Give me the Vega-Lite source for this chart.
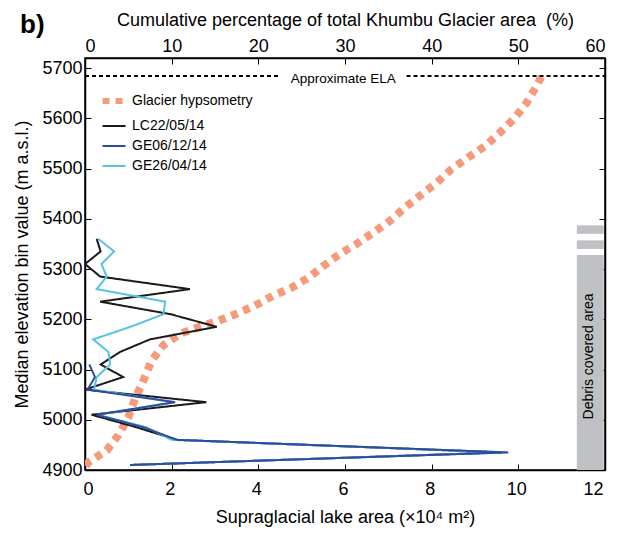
{
  "$schema": "https://vega.github.io/schema/vega-lite/v6.json",
  "width": 520,
  "height": 412,
  "autosize": "none",
  "padding": {"left": 85, "top": 58, "right": 16, "bottom": 65},
  "title": {"text": "b)", "anchor": "start", "frame": "group", "dx": -65, "dy": 31, "fontSize": 26, "fontWeight": "bold", "font": "Liberation Sans", "color": "black"},
  "config": {
    "font": "Liberation Sans",
    "view": {"stroke": "black", "strokeWidth": 1.5},
    "axis": {"grid": false, "domainColor": "black", "domainWidth": 1.5, "tickColor": "black", "tickWidth": 1, "tickSize": -6, "labelPadding": 9, "labelFontSize": 18, "labelColor": "black", "titleFontSize": 18, "titleFontWeight": "normal", "titleColor": "black", "labelFont": "Liberation Sans", "titleFont": "Liberation Sans"},
    "legend": {"labelFontSize": 14, "labelColor": "black", "labelFont": "Liberation Sans"}
  },
  "datasets": {
    "hyps": [
      {"series": "Glacier hypsometry", "pct": 0.1, "elev": 4908},
      {"series": "Glacier hypsometry", "pct": 0.38, "elev": 4915},
      {"series": "Glacier hypsometry", "pct": 2.5, "elev": 4939},
      {"series": "Glacier hypsometry", "pct": 3.84, "elev": 4969},
      {"series": "Glacier hypsometry", "pct": 5.0, "elev": 5005},
      {"series": "Glacier hypsometry", "pct": 5.77, "elev": 5042},
      {"series": "Glacier hypsometry", "pct": 6.73, "elev": 5078},
      {"series": "Glacier hypsometry", "pct": 7.7, "elev": 5118},
      {"series": "Glacier hypsometry", "pct": 9.03, "elev": 5148},
      {"series": "Glacier hypsometry", "pct": 10.96, "elev": 5171},
      {"series": "Glacier hypsometry", "pct": 13.07, "elev": 5184},
      {"series": "Glacier hypsometry", "pct": 15.38, "elev": 5197},
      {"series": "Glacier hypsometry", "pct": 17.5, "elev": 5211},
      {"series": "Glacier hypsometry", "pct": 19.6, "elev": 5227},
      {"series": "Glacier hypsometry", "pct": 21.7, "elev": 5247},
      {"series": "Glacier hypsometry", "pct": 23.85, "elev": 5263},
      {"series": "Glacier hypsometry", "pct": 25.8, "elev": 5283},
      {"series": "Glacier hypsometry", "pct": 27.5, "elev": 5306},
      {"series": "Glacier hypsometry", "pct": 29.4, "elev": 5330},
      {"series": "Glacier hypsometry", "pct": 31.35, "elev": 5350},
      {"series": "Glacier hypsometry", "pct": 33.3, "elev": 5373},
      {"series": "Glacier hypsometry", "pct": 35.2, "elev": 5396},
      {"series": "Glacier hypsometry", "pct": 36.9, "elev": 5422},
      {"series": "Glacier hypsometry", "pct": 38.65, "elev": 5446},
      {"series": "Glacier hypsometry", "pct": 40.6, "elev": 5472},
      {"series": "Glacier hypsometry", "pct": 42.3, "elev": 5499},
      {"series": "Glacier hypsometry", "pct": 44.2, "elev": 5522},
      {"series": "Glacier hypsometry", "pct": 46.2, "elev": 5545},
      {"series": "Glacier hypsometry", "pct": 47.9, "elev": 5572},
      {"series": "Glacier hypsometry", "pct": 49.6, "elev": 5601},
      {"series": "Glacier hypsometry", "pct": 50.96, "elev": 5631},
      {"series": "Glacier hypsometry", "pct": 52.1, "elev": 5664},
      {"series": "Glacier hypsometry", "pct": 52.9, "elev": 5691}
    ],
    "lakes": [
      {"series": "LC22/05/14", "elev": 4910, "area": 1.04},
      {"series": "LC22/05/14", "elev": 4935, "area": 9.6},
      {"series": "LC22/05/14", "elev": 4960, "area": 2.12},
      {"series": "LC22/05/14", "elev": 4985, "area": 1.19},
      {"series": "LC22/05/14", "elev": 5010, "area": 0.15},
      {"series": "LC22/05/14", "elev": 5035, "area": 2.8},
      {"series": "LC22/05/14", "elev": 5060, "area": 0.0},
      {"series": "LC22/05/14", "elev": 5085, "area": 0.88},
      {"series": "LC22/05/14", "elev": 5110, "area": 0.36},
      {"series": "LC22/05/14", "elev": 5135, "area": 0.81},
      {"series": "LC22/05/14", "elev": 5160, "area": 1.5},
      {"series": "LC22/05/14", "elev": 5185, "area": 3.04},
      {"series": "LC22/05/14", "elev": 5210, "area": 1.98},
      {"series": "LC22/05/14", "elev": 5235, "area": 0.35},
      {"series": "LC22/05/14", "elev": 5260, "area": 2.42},
      {"series": "LC22/05/14", "elev": 5285, "area": 0.35},
      {"series": "LC22/05/14", "elev": 5310, "area": 0.0},
      {"series": "LC22/05/14", "elev": 5335, "area": 0.36},
      {"series": "LC22/05/14", "elev": 5360, "area": 0.27},
      {"series": "GE26/04/14", "elev": 4910, "area": 1.04},
      {"series": "GE26/04/14", "elev": 4935, "area": 9.7},
      {"series": "GE26/04/14", "elev": 4960, "area": 2.0},
      {"series": "GE26/04/14", "elev": 4985, "area": 1.42},
      {"series": "GE26/04/14", "elev": 5010, "area": 0.3},
      {"series": "GE26/04/14", "elev": 5035, "area": 2.05},
      {"series": "GE26/04/14", "elev": 5060, "area": 0.21},
      {"series": "GE26/04/14", "elev": 5085, "area": 0.27},
      {"series": "GE26/04/14", "elev": 5110, "area": 0.58},
      {"series": "GE26/04/14", "elev": 5135, "area": 0.54},
      {"series": "GE26/04/14", "elev": 5160, "area": 0.19},
      {"series": "GE26/04/14", "elev": 5185, "area": 1.05},
      {"series": "GE26/04/14", "elev": 5210, "area": 1.81},
      {"series": "GE26/04/14", "elev": 5235, "area": 1.85},
      {"series": "GE26/04/14", "elev": 5260, "area": 0.27},
      {"series": "GE26/04/14", "elev": 5285, "area": 0.5},
      {"series": "GE26/04/14", "elev": 5310, "area": 0.38},
      {"series": "GE26/04/14", "elev": 5335, "area": 0.67},
      {"series": "GE26/04/14", "elev": 5360, "area": 0.31},
      {"series": "GE06/12/14", "elev": 4910, "area": 1.04},
      {"series": "GE06/12/14", "elev": 4935, "area": 9.77},
      {"series": "GE06/12/14", "elev": 4960, "area": 2.12},
      {"series": "GE06/12/14", "elev": 4985, "area": 1.35},
      {"series": "GE06/12/14", "elev": 5010, "area": 0.27},
      {"series": "GE06/12/14", "elev": 5035, "area": 2.08},
      {"series": "GE06/12/14", "elev": 5060, "area": 0.06},
      {"series": "GE06/12/14", "elev": 5085, "area": 0.23},
      {"series": "GE06/12/14", "elev": 5110, "area": 0.1}
    ],
    "debris": [
      {"area": 11.35, "area2": 11.97, "elev": 4900, "elev2": 5328},
      {"area": 11.35, "area2": 11.97, "elev": 5340, "elev2": 5357},
      {"area": 11.35, "area2": 11.97, "elev": 5370, "elev2": 5387}
    ],
    "ela": [
      {"area": 0, "area2": 4.5, "elev": 5684},
      {"area": 7.42, "area2": 12, "elev": 5684}
    ]
  },
  "layer": [
    {
      "data": {"name": "hyps"},
      "mark": {"type": "line", "strokeCap": "butt", "strokeWidth": 8, "clip": true},
      "encoding": {
        "x": {"field": "pct", "type": "quantitative", "scale": {"domain": [0, 60], "nice": false}, "axis": {"orient": "top", "values": [0, 10, 20, 30, 40, 50, 60], "title": "Cumulative percentage of total Khumbu Glacier area\u00a0 (%)", "titlePadding": 8}},
        "y": {"field": "elev", "type": "quantitative", "scale": {"domain": [4900, 5720], "nice": false, "zero": false}, "axis": {"orient": "left", "format": "d", "values": [4900, 5000, 5100, 5200, 5300, 5400, 5500, 5600, 5700], "title": "Median elevation bin value (m a.s.l.)", "titlePadding": 10}},
        "order": {"field": "elev", "type": "quantitative"},
        "color": {"field": "series", "type": "nominal", "scale": {"domain": ["Glacier hypsometry", "LC22/05/14", "GE06/12/14", "GE26/04/14"], "range": ["#F59B7C", "#1a1a1a", "#2F4DA0", "#56C3E2"]}, "legend": {"title": null, "orient": "none", "legendX": 22, "legendY": 36, "symbolType": "stroke", "symbolSize": 529, "rowPadding": 6, "padding": 0, "labelOffset": 11, "encode": {"symbols": {"update": {"strokeWidth": {"signal": "datum.value === 'Glacier hypsometry' ? 6 : 2"}}}}}},
        "strokeDash": {"field": "series", "type": "nominal", "scale": {"domain": ["Glacier hypsometry", "LC22/05/14", "GE06/12/14", "GE26/04/14"], "range": [[7, 6], [1, 0], [1, 0], [1, 0]]}, "legend": {"title": null, "orient": "none", "legendX": 22, "legendY": 36, "symbolType": "stroke", "symbolSize": 529, "rowPadding": 6, "padding": 0, "labelOffset": 11, "encode": {"symbols": {"update": {"strokeWidth": {"signal": "datum.value === 'Glacier hypsometry' ? 6 : 2"}}}}}}
      }
    },
    {
      "encoding": {
        "x": {"field": "area", "type": "quantitative", "scale": {"domain": [0, 12], "nice": false}, "axis": {"orient": "bottom", "values": [0, 2, 4, 6, 8, 10, 12], "title": "Supraglacial lake area (×10⁴ m²)", "titlePadding": 10, "labelPadding": 16, "labelOffset": -2}},
        "y": {"field": "elev", "type": "quantitative", "scale": {"domain": [4900, 5720], "nice": false, "zero": false}, "axis": {"orient": "right", "values": [4900, 5000, 5100, 5200, 5300, 5400, 5500, 5600, 5700], "labels": false, "title": null}}
      },
      "layer": [
        {
          "data": {"name": "debris"},
          "mark": {"type": "rect", "color": "#C0C1C4"},
          "encoding": {"x2": {"field": "area2"}, "y2": {"field": "elev2"}}
        },
        {
          "data": {"values": [{"area": 11.62, "elev": 5126, "label": "Debris covered area"}]},
          "mark": {"type": "text", "angle": 270, "fontSize": 14, "color": "black", "align": "center", "baseline": "middle"},
          "encoding": {"text": {"field": "label"}}
        },
        {
          "data": {"name": "ela"},
          "mark": {"type": "rule", "color": "black", "strokeWidth": 2, "strokeDash": [4, 3]},
          "encoding": {"x2": {"field": "area2"}}
        },
        {
          "data": {"values": [{"area": 5.96, "elev": 5670, "label": "Approximate ELA"}]},
          "mark": {"type": "text", "fontSize": 13.5, "color": "black", "align": "center", "baseline": "alphabetic"},
          "encoding": {"text": {"field": "label"}}
        },
        {
          "data": {"name": "lakes"},
          "mark": {"type": "line", "strokeWidth": 2, "clip": true},
          "encoding": {
            "order": {"field": "elev", "type": "quantitative"},
            "color": {"field": "series", "type": "nominal"},
            "strokeDash": {"field": "series", "type": "nominal"}
          }
        }
      ]
    }
  ],
  "resolve": {"scale": {"x": "independent", "y": "independent"}}
}
